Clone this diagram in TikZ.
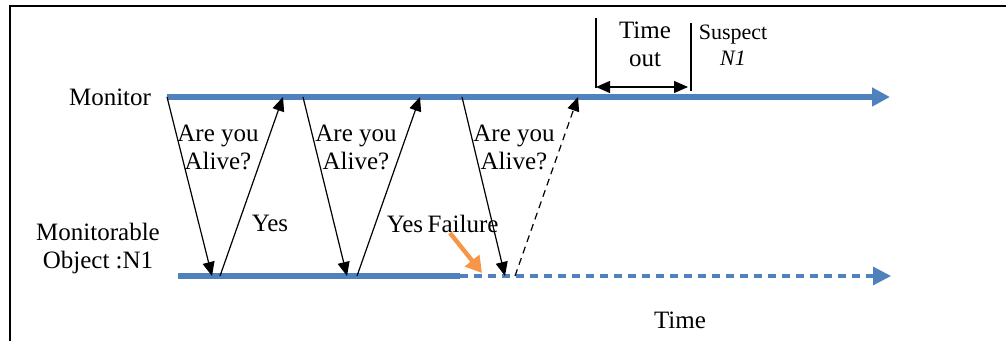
\documentclass[tikz,border=0pt]{standalone}
\usepackage{fontspec}
\setmainfont{Liberation Serif}
\usetikzlibrary{arrows.meta}
\definecolor{tlblue}{HTML}{4F81BD}
\definecolor{failorange}{HTML}{F79646}
\begin{document}
\begin{tikzpicture}[x=0.5pt,y=-0.5pt,
  lbl/.style={inner sep=0pt,font=\fontsize{12.5}{14}\selectfont,align=center},
  small/.style={inner sep=0pt,font=\fontsize{11}{13}\selectfont,align=center},
  timeline/.style={draw=tlblue,line width=2.6pt},
  tlarrow/.style={-{Triangle[length=9pt,width=9pt]}},
  msg/.style={draw=black,line width=0.6pt,-{Triangle[length=7pt,width=6pt]}},
  tick/.style={draw=black,line width=0.6pt}]
\useasboundingbox (0,0) rectangle (1006,341);
\draw[line width=0.6pt] (10,345) -- (10,6) -- (1010,6);
% timelines
\coordinate (m0) at (167,97);
\coordinate (mE) at (890,97);
\coordinate (o0) at (178,276);
\coordinate (oF) at (460,276);
\coordinate (oE) at (891,276);
\draw[timeline,tlarrow] (m0) -- (mE);
\draw[timeline] (o0) -- (oF);
\draw[draw=tlblue,line width=1.6pt,dash pattern=on 4pt off 3pt,tlarrow] (oF) -- (oE);
% labels
\node[lbl] (mon) at (110,97) {Monitor};
\node[lbl] (obj) at (98,248) {Monitorable\\Object :N1};
% messages
\coordinate (q1s) at (167,97); \coordinate (q1e) at (212,276);
\coordinate (r1s) at (220,276); \coordinate (r1e) at (283,97);
\coordinate (q2s) at (303,97); \coordinate (q2e) at (347,276);
\coordinate (r2s) at (357,276); \coordinate (r2e) at (420,97);
\coordinate (q3s) at (462,97); \coordinate (q3e) at (505,276);
\coordinate (r3s) at (515,276); \coordinate (r3e) at (578,97);
\draw[msg] (q1s) -- (q1e);
\draw[msg] (r1s) -- (r1e);
\draw[msg] (q2s) -- (q2e);
\draw[msg] (r2s) -- (r2e);
\draw[msg] (q3s) -- (q3e);
\draw[msg,dash pattern=on 3.5pt off 2.5pt] (r3s) -- (r3e);
\node[lbl] (a1) at (218,147) {Are you\\Alive?};
\node[lbl] (a2) at (356,147) {Are you\\Alive?};
\node[lbl] (a3) at (514,147) {Are you\\Alive?};
\node[lbl] (y1) at (270,223) {Yes};
\node[lbl] (y2) at (405,224) {Yes};
\node[lbl] (fl) at (463,224) {Failure};
% failure arrow
\coordinate (fs) at (450,233);
\coordinate (fe) at (482,273);
\draw[draw=failorange,line width=2.2pt,-{Triangle[length=8pt,width=9pt]}] (fs) -- (fe);
% timeout
\coordinate (tl1) at (596,18); \coordinate (tl2) at (596,88);
\coordinate (tr1) at (691,23); \coordinate (tr2) at (691,91);
\draw[tick] (tl1) -- (tl2);
\draw[tick] (tr1) -- (tr2);
\coordinate (ta) at (596,87); \coordinate (tb) at (688,87);
\draw[line width=0.6pt,{Triangle[length=7pt,width=6pt]}-{Triangle[length=7pt,width=6pt]}] (ta) -- (tb);
\node[lbl] (to) at (645,44) {Time\\out};
\node[small] (sus) at (733,45) {Suspect\\\textit{N1}};
\node[lbl] (tm) at (680,320) {Time};
\end{tikzpicture}
\end{document}
